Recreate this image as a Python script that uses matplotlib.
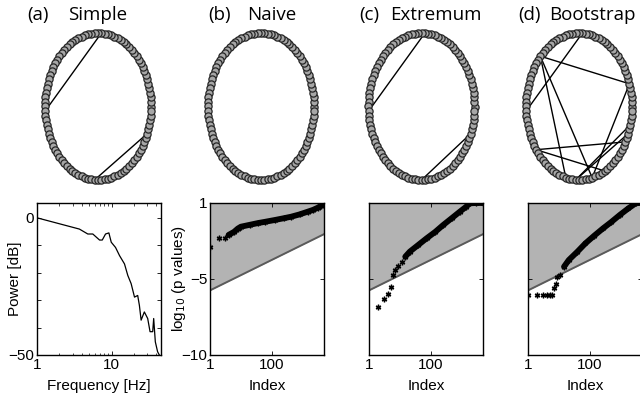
import numpy as np
import matplotlib
matplotlib.use('Agg')
import matplotlib.pyplot as plt

W, H = 640, 401

# network panels: 100 channels on a ring, edges are node index pairs
n_nodes = 100
edges_simple = [(24, 51), (74, 94)]
edges_naive = []
edges_extremum = [(24, 51), (75, 94)]
edges_bootstrap = [(24, 51), (38, 5), (38, 71), (38, 79), (5, 79),
                   (60, 92), (60, 83), (74, 94), (74, 96)]

# (a) spectrum
freq_hz = [1, 3.7, 4.8, 5.6, 6.9, 7.5, 8.3, 9.2, 9.9, 11.3, 12.8, 14.9, 16.5,
           18.3, 20.3, 22.4, 23.6, 24.9, 27.5, 30.5, 32.8, 35.6, 36.7, 38.6,
           41.4, 43.7]
power_db = [0, -4.1, -5.9, -5.9, -8.1, -8.1, -5.9, -5.5, -8.9, -10.8, -13.8,
            -16.8, -21, -24, -28.9, -28.3, -31.9, -37.3, -34.3, -36.7, -41.5,
            -41.5, -36.7, -45.2, -48.8, -50]

# sorted log10 p values, sparse head (markers) and dense tail (band)
naive_idx = [1, 2, 3]
naive_val = [-2.87, -2.32, -2.32]
naive_band_idx = [4, 6, 8, 10, 20, 36, 60, 125, 250, 430, 800, 1480, 2200, 3100, 4000, 4950]
naive_band_val = [-2.1, -1.9, -1.68, -1.56, -1.43, -1.32, -1.24, -1.12, -1.0, -0.9,
                  -0.75, -0.57, -0.45, -0.31, -0.18, 0]

extr_idx = [2, 3, 4, 5, 6, 7, 9, 12]
extr_val = [-6.86, -6.3, -6.0, -5.5, -4.74, -4.4, -4.14, -3.86]
extr_band_idx = [15, 21, 40, 74, 140, 253, 500, 880, 1400, 1860, 3000, 4950]
extr_band_val = [-3.53, -3.2, -2.75, -2.32, -1.9, -1.45, -0.97, -0.57, -0.25, -0.02, 0, 0]

boot_idx = [1, 2, 3, 4, 5, 6, 7, 8, 9, 11]
boot_val = [-6.05, -6.05, -6.05, -6.05, -6.05, -6.05, -5.6, -5.3, -4.85, -4.74]
boot_band_idx = [14.7, 21, 40, 73, 140, 270, 500, 940, 1800, 3200, 4950]
boot_band_val = [-4.19, -3.75, -3.2, -2.65, -2.15, -1.67, -1.25, -0.79, -0.35, 0, 0]

# FDR threshold line
thr_idx = [1, 4950]
thr_val = [-5.75, -2.05]

titles = [('(a)', 'Simple'), ('(b)', 'Naive'), ('(c)', 'Extremum'), ('(d)', 'Bootstrap')]

plt.rcParams['font.family'] = ['Liberation Sans', 'DejaVu Sans']
plt.rcParams['axes.linewidth'] = 1.0

asterisk = (6, 2, 0)


def px(l, t, r, b):
    return [l / W, 1 - b / H, (r - l) / W, (b - t) / H]


fig = plt.figure(figsize=(W / 100, H / 100), dpi=100)

# titles
title_x = [(27, 68), (208, 247), (359, 390), (518, 549)]
for (lab, name), (x1, x2) in zip(titles, title_x):
    fig.text(x1 / W, 1 - 15 / H, lab, family='Open Sans', fontsize=13.5, va='center')
    fig.text(x2 / W, 1 - 15 / H, name, family='Open Sans', fontsize=13.5, va='center')

# ring panels
ring_cx = [98, 261, 421.5, 579]
ring_cy = 106.5
rx, ry, lim = 53, 73.5, 1.1
theta = 2 * np.pi * np.arange(n_nodes) / n_nodes
nx, ny = np.cos(theta), np.sin(theta)
for cx, edges in zip(ring_cx, [edges_simple, edges_naive, edges_extremum, edges_bootstrap]):
    ax = fig.add_axes(px(cx - rx * lim, ring_cy - ry * lim, cx + rx * lim, ring_cy + ry * lim))
    for i, j in edges:
        ax.plot([nx[i], nx[j]], [ny[i], ny[j]], color='k', lw=1.0, zorder=1)
    ax.plot(nx, ny, 'o', ms=5.2, mfc='#a6a6a6', mec='#262626', mew=0.9, zorder=2)
    ax.set_xlim(-lim, lim)
    ax.set_ylim(-lim, lim)
    ax.axis('off')

fs = 11

# (a) spectrum
ax = fig.add_axes(px(37, 203, 161, 355))
ax.plot(freq_hz, power_db, color='k', lw=0.9)
ax.set_xscale('log')
ax.set_xlim(1, 46)
ax.set_ylim(-50, 5.4)
ax.set_yticks([-50, -40, -30, -20, -10, 0])
ax.set_yticklabels(['\u221250', '', '', '', '', '0'])
ax.set_xticks([1, 10])
ax.set_xticklabels(['1', '10'])
ax.tick_params(direction='in', top=True, right=True, labelsize=fs, length=3, width=0.6, pad=2)
ax.tick_params(which='minor', direction='in', top=True, length=1.8, width=0.5)
ax.set_xlabel('Frequency [Hz]', fontsize=fs, labelpad=5)
ax.set_ylabel('Power [dB]', fontsize=fs)
ax.yaxis.set_label_coords(-0.12, 0.5)

# (b)-(d) p-value panels
pboxes = [(210, 203, 324, 355), (369, 203, 483, 355), (528, 203, 642, 355)]
pdata = [(naive_idx, naive_val, naive_band_idx, naive_band_val),
         (extr_idx, extr_val, extr_band_idx, extr_band_val),
         (boot_idx, boot_val, boot_band_idx, boot_band_val)]
for k, (box, (si, sv, bi, bv)) in enumerate(zip(pboxes, pdata)):
    ax = fig.add_axes(px(*box))
    ax.set_xscale('log')
    ax.fill_between(thr_idx, thr_val, [0, 0], color='#b3b3b3', lw=0, zorder=0)
    ax.plot(thr_idx, thr_val, color='#5a5a5a', lw=1.4, zorder=1)
    ax.plot(bi, bv, color='k', lw=4.2, solid_capstyle='round', zorder=2)
    ax.plot(bi, bv, marker=asterisk, ls='none', color='k', ms=4, mew=1, zorder=2)
    ax.plot(si, sv, marker=asterisk, ls='none', color='k', ms=4, mew=1, zorder=3)
    ax.set_xlim(1, 4950)
    ax.set_ylim(-10, 0)
    ax.set_xticks([1, 100])
    ax.set_xticklabels(['1', '100'])
    ax.xaxis.set_minor_locator(matplotlib.ticker.NullLocator())
    ax.set_yticks([-10, -5, 0])
    if k == 0:
        ax.set_yticklabels(['\u221210', '\u22125', '1'])
        ax.set_ylabel('log$_{10}$ (p values)', fontsize=fs)
        ax.yaxis.set_label_coords(-0.19, 0.5)
    else:
        ax.set_yticklabels([])
    ax.tick_params(direction='in', top=True, right=True, labelsize=fs, length=3, width=0.6, pad=2)
    ax.set_xlabel('Index', fontsize=fs, labelpad=5)

fig.savefig('out.png', dpi=100)
